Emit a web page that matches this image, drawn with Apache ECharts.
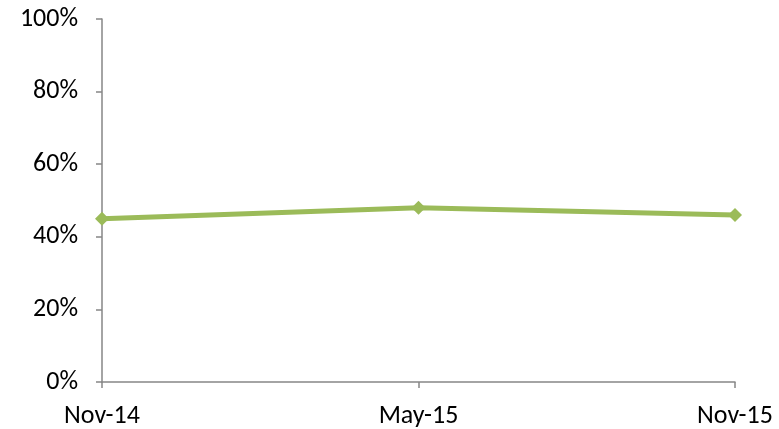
<!DOCTYPE html>
<html>
<head>
<meta charset="utf-8">
<script src="https://cdn.jsdelivr.net/npm/echarts@6/dist/echarts.min.js"></script>
<style>
  html, body { margin: 0; padding: 0; background: #fff; }
  #chart { width: 779px; height: 429px; }
</style>
</head>
<body>
<div id="chart"></div>
<script>
// Survey periods and share of respondents (%)
const periods = ['Nov-14', 'May-15', 'Nov-15'];
const shares = [45, 48, 46];
const yTicks = { min: 0, max: 100, step: 20 };

const axisGrey = '#868686';
const labelFont = { fontFamily: 'Carlito, "Open Sans", "Noto Sans", sans-serif', fontSize: 26, color: '#000' };

const chart = echarts.init(document.getElementById('chart'), null, { renderer: 'canvas' });
chart.setOption({
  animation: false,
  grid: { left: 102, right: 44, top: 19, bottom: 47, containLabel: false },
  xAxis: {
    type: 'category',
    data: periods,
    boundaryGap: false,
    axisLine: { lineStyle: { color: axisGrey, width: 1.5 } },
    axisTick: { show: true, length: 6, alignWithLabel: true, lineStyle: { color: axisGrey, width: 1.5 } },
    axisLabel: Object.assign({ margin: 21 }, labelFont),
    splitLine: { show: false }
  },
  yAxis: {
    type: 'value',
    min: yTicks.min,
    max: yTicks.max,
    interval: yTicks.step,
    axisLine: { show: true, lineStyle: { color: axisGrey, width: 1.5 } },
    axisTick: { show: true, length: 6, lineStyle: { color: axisGrey, width: 1.5 } },
    axisLabel: Object.assign({ margin: 24, formatter: '{value}%' }, labelFont),
    splitLine: { show: false }
  },
  series: [{
    type: 'line',
    data: shares,
    symbol: 'diamond',
    symbolSize: 14,
    lineStyle: { color: '#9BBB59', width: 5 },
    itemStyle: { color: '#9BBB59' }
  }]
});
</script>
</body>
</html>
